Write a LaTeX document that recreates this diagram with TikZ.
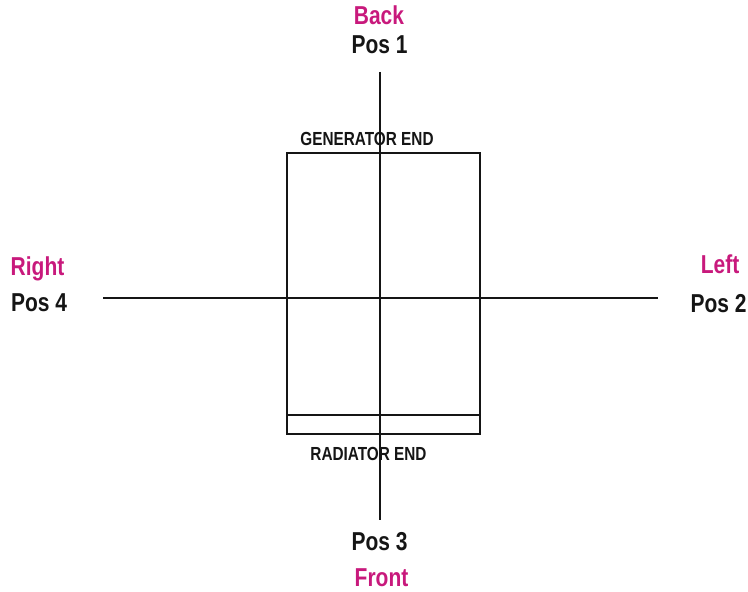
\documentclass[tikz,border=0pt]{standalone}
\usepackage{fontspec}
\usepackage{xcolor}
\usepackage{tikz}
\usetikzlibrary{positioning}
\newfontfamily\AxisFont[FakeStretch=0.81]{Liberation Sans}
\definecolor{AxisMagenta}{HTML}{C8197C}
\definecolor{AxisBlack}{HTML}{151515}
\tikzset{
  every picture/.style = {line join=miter, line cap=butt},
  axis line/.style = {draw=AxisBlack, line width=1.3pt},
  frame line/.style = {draw=AxisBlack, line width=1.3pt},
  pos label/.style = {font=\AxisFont\bfseries\fontsize{26}{26}\selectfont,
    text=AxisBlack, inner sep=0pt, anchor=base},
  side label/.style = {pos label, text=AxisMagenta},
  end label/.style = {font=\AxisFont\bfseries\fontsize{19}{19}\selectfont,
    text=AxisBlack, inner sep=0pt, anchor=base},
}

\begin{document}
\begin{tikzpicture}[x=1bp,y=-1bp]
  \useasboundingbox (0,0) rectangle (748,592);

  % radiator body
  \coordinate (bodyNW) at (287,153);
  \coordinate (bodySE) at (480,434);
  \coordinate (splitW) at (287,415);
  \coordinate (splitE) at (480,415);
  \draw[frame line] (bodyNW) rectangle (bodySE);
  \draw[frame line] (splitW) -- (splitE);

  % axes
  \coordinate (axisTop) at (380,72);
  \coordinate (axisBot) at (380,520);
  \coordinate (axisLeft) at (103,298);
  \coordinate (axisRight) at (658,298);
  \draw[axis line] (axisTop) -- (axisBot);
  \draw[axis line] (axisLeft) -- (axisRight);

  \node[end label] (genEnd) at (367,146) {GENERATOR END};
  \node[end label] (radEnd) at (368.5,460) {RADIATOR END};

  \node[side label] (back) at (379,25) {Back};
  \node[pos label] (pos1) at (379.5,54) {Pos 1};
  \node[side label] (right) at (37.5,275) {Right};
  \node[pos label] (pos4) at (39,311) {Pos 4};
  \node[side label] (left) at (720,273) {Left};
  \node[pos label] (pos2) at (718.5,312) {Pos 2};
  \node[pos label] (pos3) at (379.5,550) {Pos 3};
  \node[side label] (front) at (381.5,586) {Front};
\end{tikzpicture}
\end{document}
